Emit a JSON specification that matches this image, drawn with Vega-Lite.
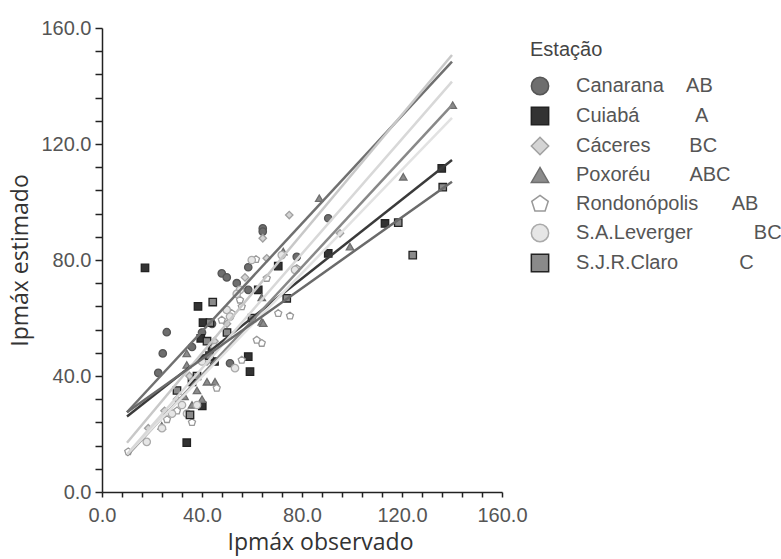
{
  "$schema": "https://vega.github.io/schema/vega-lite/v6.json",
  "width": 400,
  "height": 464,
  "autosize": {"type": "none"},
  "padding": {"left": 102, "top": 28, "right": 279, "bottom": 67},
  "background": "white",
  "config": {"view": {"stroke": null}, "font": "Liberation Sans"},
  "datasets": {
    "pts": [
      {"station": "Canarana", "obs": 22.5, "est": 41.1},
      {"station": "Canarana", "obs": 24.3, "est": 47.8},
      {"station": "Canarana", "obs": 25.9, "est": 55.1},
      {"station": "Canarana", "obs": 47.9, "est": 75.4},
      {"station": "Canarana", "obs": 49.9, "est": 74.0},
      {"station": "Canarana", "obs": 53.9, "est": 72.0},
      {"station": "Canarana", "obs": 58.5, "est": 77.5},
      {"station": "Canarana", "obs": 64.3, "est": 90.9},
      {"station": "Canarana", "obs": 64.3, "est": 89.8},
      {"station": "Canarana", "obs": 58.5, "est": 69.7},
      {"station": "Canarana", "obs": 77.9, "est": 81.1},
      {"station": "Canarana", "obs": 90.5, "est": 94.4},
      {"station": "Canarana", "obs": 51.2, "est": 44.4},
      {"station": "Canarana", "obs": 40.0, "est": 55.0},
      {"station": "Canarana", "obs": 36.0, "est": 50.0},
      {"station": "Canarana", "obs": 44.0, "est": 58.0},
      {"station": "Cuiabá", "obs": 17.2, "est": 77.3},
      {"station": "Cuiabá", "obs": 38.4, "est": 64.0},
      {"station": "Cuiabá", "obs": 40.4, "est": 58.4},
      {"station": "Cuiabá", "obs": 39.5, "est": 53.0},
      {"station": "Cuiabá", "obs": 44.0, "est": 50.0},
      {"station": "Cuiabá", "obs": 41.0, "est": 46.0},
      {"station": "Cuiabá", "obs": 58.5, "est": 46.7},
      {"station": "Cuiabá", "obs": 59.2, "est": 41.5},
      {"station": "Cuiabá", "obs": 40.1, "est": 29.7},
      {"station": "Cuiabá", "obs": 33.9, "est": 17.0},
      {"station": "Cuiabá", "obs": 62.5, "est": 69.7},
      {"station": "Cuiabá", "obs": 70.5, "est": 77.9},
      {"station": "Cuiabá", "obs": 90.5, "est": 82.3},
      {"station": "Cuiabá", "obs": 113.2, "est": 92.6},
      {"station": "Cuiabá", "obs": 135.9, "est": 111.6},
      {"station": "Cuiabá", "obs": 45.0, "est": 45.0},
      {"station": "Cuiabá", "obs": 36.0, "est": 38.0},
      {"station": "Cáceres", "obs": 57.2, "est": 74.0},
      {"station": "Cáceres", "obs": 65.9, "est": 80.6},
      {"station": "Cáceres", "obs": 64.3, "est": 87.5},
      {"station": "Cáceres", "obs": 74.9, "est": 95.5},
      {"station": "Cáceres", "obs": 95.2, "est": 89.2},
      {"station": "Cáceres", "obs": 18.5, "est": 22.0},
      {"station": "Cáceres", "obs": 30.0, "est": 32.0},
      {"station": "Cáceres", "obs": 35.0, "est": 40.0},
      {"station": "Cáceres", "obs": 45.0, "est": 52.0},
      {"station": "Cáceres", "obs": 50.0, "est": 58.0},
      {"station": "Cáceres", "obs": 42.0, "est": 45.0},
      {"station": "Cáceres", "obs": 25.0, "est": 28.0},
      {"station": "Poxoréu", "obs": 33.9, "est": 47.8},
      {"station": "Poxoréu", "obs": 33.9, "est": 43.8},
      {"station": "Poxoréu", "obs": 45.2, "est": 38.0},
      {"station": "Poxoréu", "obs": 63.9, "est": 58.7},
      {"station": "Poxoréu", "obs": 63.9, "est": 67.1},
      {"station": "Poxoréu", "obs": 64.5, "est": 58.2},
      {"station": "Poxoréu", "obs": 86.9, "est": 101.3},
      {"station": "Poxoréu", "obs": 120.5, "est": 108.7},
      {"station": "Poxoréu", "obs": 140.3, "est": 133.4},
      {"station": "Poxoréu", "obs": 99.2, "est": 84.6},
      {"station": "Poxoréu", "obs": 72.5, "est": 82.9},
      {"station": "Poxoréu", "obs": 23.9, "est": 22.8},
      {"station": "Poxoréu", "obs": 33.0, "est": 33.0},
      {"station": "Poxoréu", "obs": 36.0, "est": 30.0},
      {"station": "Poxoréu", "obs": 38.0, "est": 35.0},
      {"station": "Poxoréu", "obs": 40.0, "est": 32.0},
      {"station": "Poxoréu", "obs": 42.0, "est": 38.0},
      {"station": "Rondonópolis", "obs": 47.9, "est": 59.3},
      {"station": "Rondonópolis", "obs": 51.9, "est": 61.6},
      {"station": "Rondonópolis", "obs": 55.9, "est": 63.9},
      {"station": "Rondonópolis", "obs": 63.9, "est": 51.3},
      {"station": "Rondonópolis", "obs": 61.9, "est": 52.4},
      {"station": "Rondonópolis", "obs": 55.9, "est": 45.5},
      {"station": "Rondonópolis", "obs": 45.9, "est": 35.8},
      {"station": "Rondonópolis", "obs": 61.6, "est": 80.2},
      {"station": "Rondonópolis", "obs": 55.2, "est": 66.2},
      {"station": "Rondonópolis", "obs": 77.9, "est": 77.1},
      {"station": "Rondonópolis", "obs": 65.9, "est": 73.7},
      {"station": "Rondonópolis", "obs": 70.5, "est": 61.6},
      {"station": "Rondonópolis", "obs": 75.2, "est": 60.7},
      {"station": "Rondonópolis", "obs": 26.0, "est": 25.0},
      {"station": "Rondonópolis", "obs": 30.0, "est": 28.0},
      {"station": "Rondonópolis", "obs": 36.0, "est": 24.0},
      {"station": "Rondonópolis", "obs": 10.5, "est": 13.9},
      {"station": "S.A.Leverger", "obs": 53.2, "est": 42.7},
      {"station": "S.A.Leverger", "obs": 59.9, "est": 80.0},
      {"station": "S.A.Leverger", "obs": 55.2, "est": 69.7},
      {"station": "S.A.Leverger", "obs": 53.9, "est": 68.3},
      {"station": "S.A.Leverger", "obs": 49.9, "est": 62.8},
      {"station": "S.A.Leverger", "obs": 51.2, "est": 60.5},
      {"station": "S.A.Leverger", "obs": 71.9, "est": 81.7},
      {"station": "S.A.Leverger", "obs": 77.2, "est": 76.6},
      {"station": "S.A.Leverger", "obs": 24.0, "est": 22.0},
      {"station": "S.A.Leverger", "obs": 28.0, "est": 27.0},
      {"station": "S.A.Leverger", "obs": 32.0, "est": 30.0},
      {"station": "S.A.Leverger", "obs": 34.0, "est": 27.0},
      {"station": "S.A.Leverger", "obs": 38.0, "est": 30.0},
      {"station": "S.A.Leverger", "obs": 17.9, "est": 17.3},
      {"station": "S.A.Leverger", "obs": 45.0, "est": 50.0},
      {"station": "S.A.Leverger", "obs": 40.0, "est": 45.0},
      {"station": "S.J.R.Claro", "obs": 44.3, "est": 65.5},
      {"station": "S.J.R.Claro", "obs": 43.2, "est": 58.4},
      {"station": "S.J.R.Claro", "obs": 42.0, "est": 52.0},
      {"station": "S.J.R.Claro", "obs": 43.0, "est": 47.0},
      {"station": "S.J.R.Claro", "obs": 35.2, "est": 26.6},
      {"station": "S.J.R.Claro", "obs": 73.9, "est": 66.8},
      {"station": "S.J.R.Claro", "obs": 118.5, "est": 92.9},
      {"station": "S.J.R.Claro", "obs": 124.3, "est": 81.7},
      {"station": "S.J.R.Claro", "obs": 136.3, "est": 105.1},
      {"station": "S.J.R.Claro", "obs": 50.0, "est": 55.0},
      {"station": "S.J.R.Claro", "obs": 60.0, "est": 60.0},
      {"station": "S.J.R.Claro", "obs": 30.0, "est": 35.0},
      {"station": "S.J.R.Claro", "obs": 38.0, "est": 40.0}
    ],
    "fit": [
      {"station": "Canarana", "obs": 10, "est": 27.5},
      {"station": "Canarana", "obs": 140, "est": 148.4},
      {"station": "Cuiabá", "obs": 10, "est": 26.0},
      {"station": "Cuiabá", "obs": 140, "est": 114.5},
      {"station": "Cáceres", "obs": 10, "est": 17.0},
      {"station": "Cáceres", "obs": 140, "est": 150.7},
      {"station": "Poxoréu", "obs": 10, "est": 12.5},
      {"station": "Poxoréu", "obs": 140, "est": 133.4},
      {"station": "Rondonópolis", "obs": 10, "est": 13.0},
      {"station": "Rondonópolis", "obs": 140, "est": 129.0},
      {"station": "S.A.Leverger", "obs": 10, "est": 13.0},
      {"station": "S.A.Leverger", "obs": 140, "est": 141.5},
      {"station": "S.J.R.Claro", "obs": 10, "est": 27.5},
      {"station": "S.J.R.Claro", "obs": 140, "est": 107.0}
    ]
  },
  "layer": [
    {
      "data": {"name": "pts"},
      "mark": {"type": "point", "filled": true, "size": 55, "strokeWidth": 1.3, "opacity": 1},
      "encoding": {
        "x": {
          "field": "obs", "type": "quantitative",
          "scale": {"domain": [0, 160], "nice": false, "zero": false},
          "axis": {
            "title": "Ipmáx observado",
            "values": [0, 8, 16, 24, 32, 40, 48, 56, 64, 72, 80, 88, 96, 104, 112, 120, 128, 136, 144, 152, 160],
            "tickCount": 40,
            "labelExpr": "datum.value % 40 === 0 ? format(datum.value, '.1f') : ''",
            "grid": false, "domainColor": "#222", "tickColor": "#222", "domainWidth": 1.5, "tickWidth": 1.5,
            "tickSize": 5, "labelFontSize": 20, "labelColor": "#555", "labelPadding": 8,
            "labelFlush": false, "labelOverlap": false,
            "titleFont": "Open Sans", "titleFontSize": 23, "titleFontWeight": "normal", "titleColor": "#333",
            "titleX": 218, "titleY": 57, "titleBaseline": "alphabetic"
          }
        },
        "y": {
          "field": "est", "type": "quantitative",
          "scale": {"domain": [0, 160], "nice": false, "zero": false},
          "axis": {
            "title": "Ipmáx estimado",
            "values": [0, 8, 16, 24, 32, 40, 48, 56, 64, 72, 80, 88, 96, 104, 112, 120, 128, 136, 144, 152, 160],
            "tickCount": 40,
            "labelExpr": "datum.value % 40 === 0 ? format(datum.value, '.1f') : ''",
            "grid": false, "domainColor": "#222", "tickColor": "#222", "domainWidth": 1.5, "tickWidth": 1.5,
            "tickSize": 7, "labelFontSize": 20, "labelColor": "#555", "labelPadding": 4,
            "labelFlush": false, "labelOverlap": false,
            "titleFont": "Open Sans", "titleFontSize": 23, "titleFontWeight": "normal", "titleColor": "#333",
            "titlePadding": 8
          }
        },
        "shape": {
          "field": "station", "type": "nominal",
          "scale": {
            "domain": ["Canarana", "Cuiabá", "Cáceres", "Poxoréu", "Rondonópolis", "S.A.Leverger", "S.J.R.Claro"],
            "range": ["circle", "square", "diamond", "triangle-up", "M0,-1L0.951,-0.309L0.588,0.809L-0.588,0.809L-0.951,-0.309Z", "circle", "square"]
          },
          "legend": {
            "title": "Estação", "orient": "none", "legendX": 428, "legendY": 12,
            "titleFontSize": 20, "titleFont": "Liberation Sans", "titleFontWeight": "normal", "titleColor": "#444",
            "titlePadding": 16, "labelFontSize": 20, "labelColor": "#555", "labelFont": "Liberation Sans",
            "symbolSize": 300, "rowPadding": 6, "labelOffset": 26, "labelLimit": 400, "symbolStrokeWidth": 1.5,
            "labelExpr": "datum.label + ({'Canarana': '\u00a0\u00a0\u00a0\u00a0AB', 'Cuiabá': '\u00a0\u00a0\u00a0\u00a0\u00a0\u00a0\u00a0\u00a0\u00a0\u00a0A', 'Cáceres': '\u00a0\u00a0\u00a0\u00a0\u00a0\u00a0\u00a0BC', 'Poxoréu': '\u00a0\u00a0\u00a0\u00a0\u00a0\u00a0\u00a0ABC', 'Rondonópolis': '\u00a0\u00a0\u00a0\u00a0\u00a0\u00a0AB', 'S.A.Leverger': '\u00a0\u00a0\u00a0\u00a0\u00a0\u00a0\u00a0\u00a0\u00a0\u00a0\u00a0BC', 'S.J.R.Claro': '\u00a0\u00a0\u00a0\u00a0\u00a0\u00a0\u00a0\u00a0\u00a0\u00a0\u00a0C'})[datum.label]"
          }
        },
        "fill": {
          "field": "station", "type": "nominal",
          "scale": {
            "domain": ["Canarana", "Cuiabá", "Cáceres", "Poxoréu", "Rondonópolis", "S.A.Leverger", "S.J.R.Claro"],
            "range": ["#6e6e6e", "#333333", "#d4d4d4", "#8c8c8c", "#ffffff", "#e6e6e6", "#8a8a8a"]
          }
        },
        "stroke": {
          "field": "station", "type": "nominal",
          "scale": {
            "domain": ["Canarana", "Cuiabá", "Cáceres", "Poxoréu", "Rondonópolis", "S.A.Leverger", "S.J.R.Claro"],
            "range": ["#555555", "#222222", "#a0a0a0", "#6e6e6e", "#999999", "#aaaaaa", "#222222"]
          }
        }
      }
    },
    {
      "data": {"name": "fit"},
      "mark": {"type": "line", "strokeWidth": 2.5},
      "encoding": {
        "x": {"field": "obs", "type": "quantitative"},
        "y": {"field": "est", "type": "quantitative"},
        "detail": {"field": "station", "type": "nominal"},
        "color": {
          "field": "station", "type": "nominal",
          "scale": {
            "domain": ["Canarana", "Cuiabá", "Cáceres", "Poxoréu", "Rondonópolis", "S.A.Leverger", "S.J.R.Claro"],
            "range": ["#707070", "#3a3a3a", "#c8c8c8", "#888888", "#e2e2e2", "#d8d8d8", "#6a6a6a"]
          },
          "legend": null
        }
      }
    }
  ]
}
